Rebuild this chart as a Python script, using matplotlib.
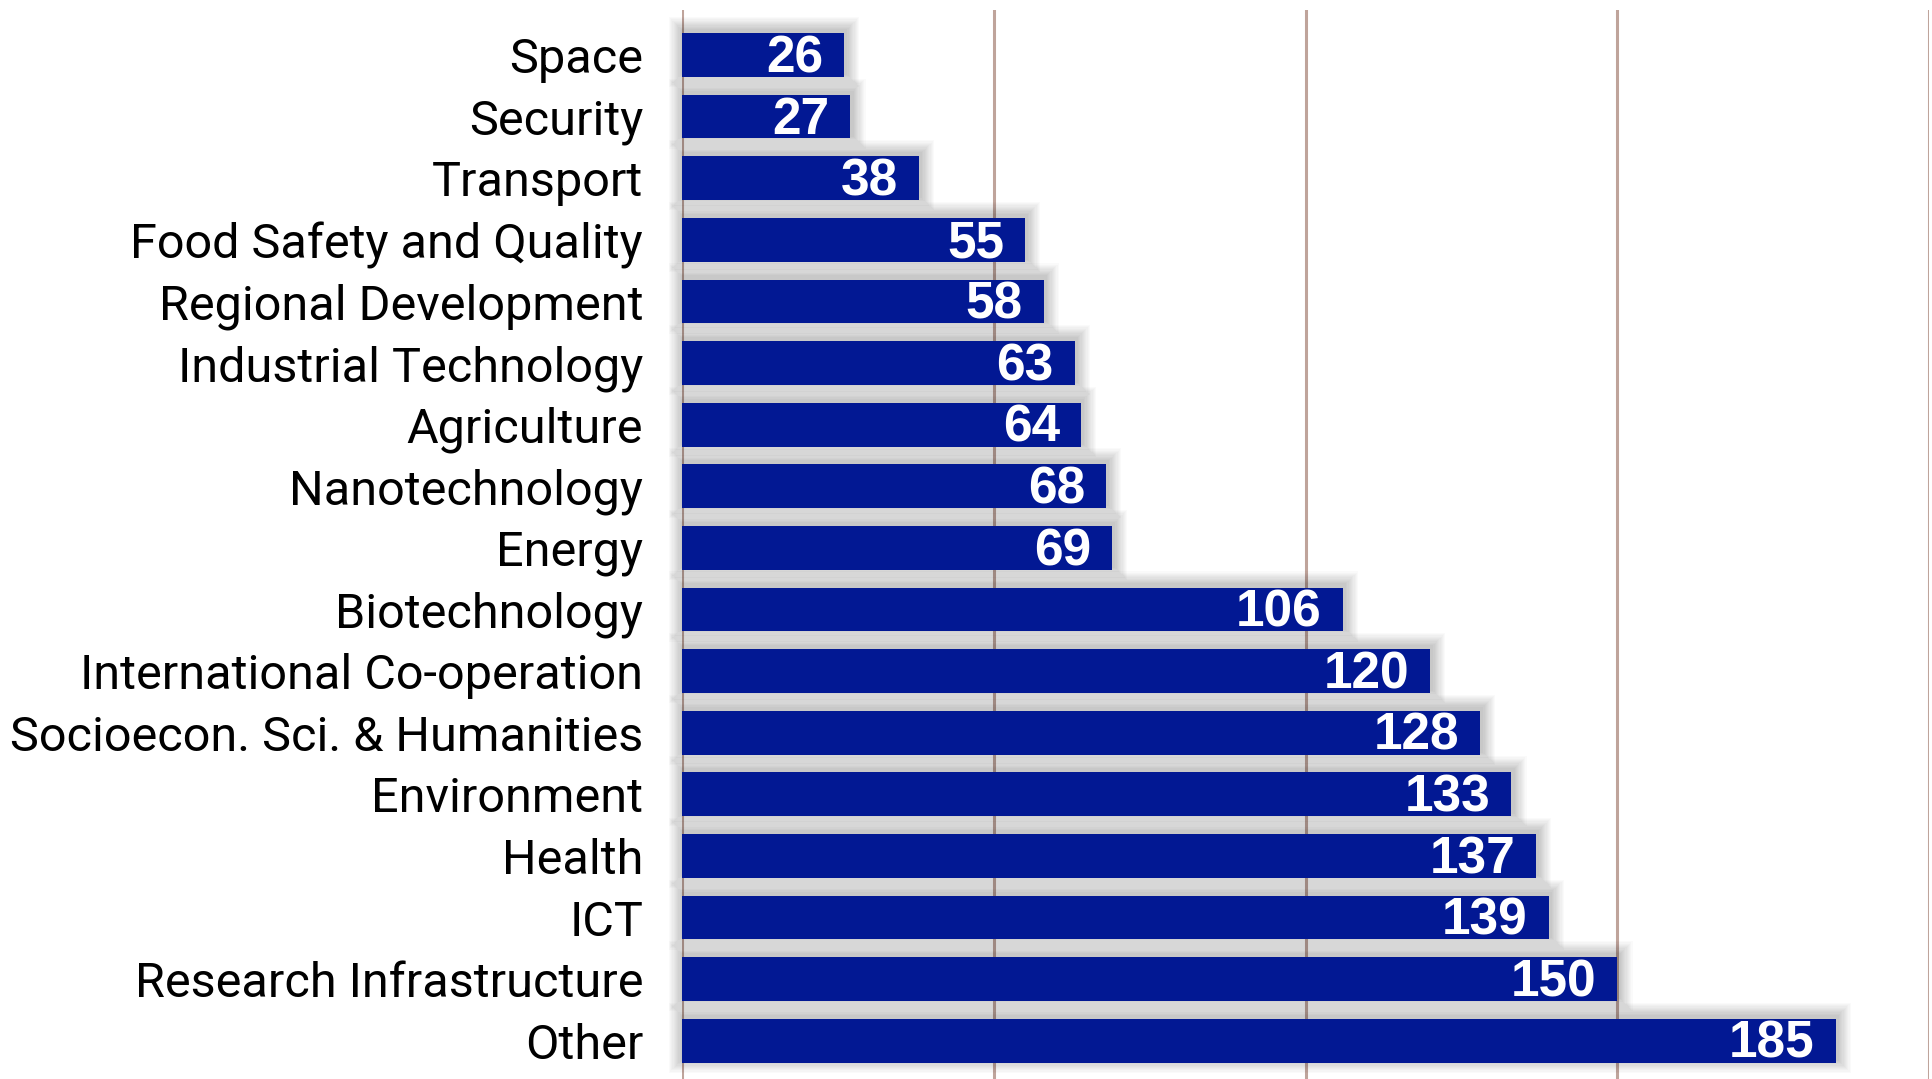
import matplotlib
matplotlib.use("Agg")
import matplotlib.pyplot as plt
import numpy as np

categories = ["Space", "Security", "Transport", "Food Safety and Quality",
              "Regional Development", "Industrial Technology", "Agriculture",
              "Nanotechnology", "Energy", "Biotechnology",
              "International Co-operation", "Socioecon. Sci. & Humanities",
              "Environment", "Health", "ICT", "Research Infrastructure", "Other"]
values = [26, 27, 38, 55, 58, 63, 64, 68, 69, 106, 120, 128, 133, 137, 139, 150, 185]
xticks = [0, 50, 100, 150, 200]

plt.rcParams['font.family'] = ['Roboto', 'Liberation Sans', 'DejaVu Sans']

fig = plt.figure(figsize=(19.32, 10.79), dpi=100)
ax = fig.add_axes([0.353, 0.0, 0.6455, 0.9907])

y = np.arange(len(categories))
vals = np.array(values, dtype=float)
h = 0.71
bar_color = "#021893"
grid_color = "#bfa49b"

# gridlines
for xt in xticks:
    ax.axvline(xt, color=grid_color, lw=2.2, zorder=1)

# soft shadow layers
ux = 1 / 6.235   # data units per pixel in x
uy = 1 / 61.6    # data units per pixel in y
for k in range(1, 12):
    e = 1.2 * k
    ax.barh(y - 3 * uy, vals + 2 * e * ux + 2 * ux, left=-e * ux, height=h + 2 * e * uy,
            color="black", alpha=0.018, lw=0, zorder=2, clip_on=False)

ax.barh(y, vals, height=h, color=bar_color, lw=0, zorder=3)

for yi, v in zip(y, values):
    ax.text(v - 21 * ux, yi + 0.06, str(v), ha="right", va="center",
            color="white", fontsize=37, fontweight="bold", zorder=4,
            family=['Liberation Sans', 'DejaVu Sans'])

ax.set_xlim(0, 200)
ax.set_ylim(len(categories) - 1 + 0.62, -0.73)
ax.set_yticks(y)
ax.set_yticklabels(categories, fontsize=35)
ax.tick_params(axis="y", length=0, pad=28)
ax.set_xticks([])
for s in ax.spines.values():
    s.set_visible(False)

fig.savefig("out.png", dpi=100)
